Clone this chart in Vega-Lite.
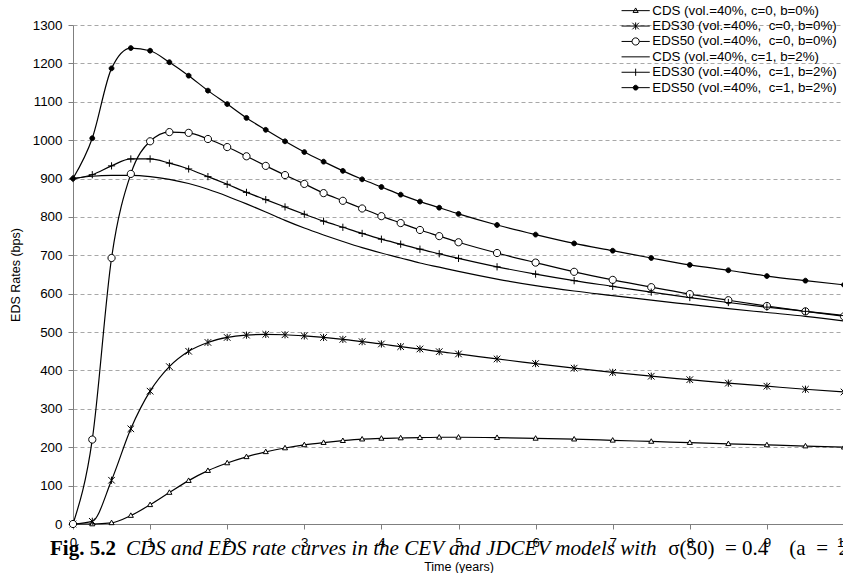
{
  "$schema": "https://vega.github.io/schema/vega-lite/v6.json",
  "width": 771,
  "height": 499,
  "autosize": "none",
  "padding": {"left": 73, "top": 25, "right": 0, "bottom": 49},
  "background": "white",
  "config": {
    "font": "Liberation Sans",
    "view": {"stroke": null},
    "legend": {
      "title": null, "orient": "none", "legendX": 556, "legendY": -21,
      "padding": 0, "symbolSize": 36, "symbolOpacity": 1, "symbolStrokeWidth": 1,
      "labelOffset": 10, "rowPadding": 1.4,
      "labelFont": "Liberation Sans", "labelFontSize": 13.3, "labelColor": "black", "labelLimit": 400
    }
  },
  "resolve": {"axis": {"x": "independent", "y": "independent"}},
  "datasets": {
    "names": [
      {"key": "cds0", "series": "CDS (vol.=40%, c=0, b=0%)"},
      {"key": "eds30_0", "series": "EDS30 (vol.=40%,\u00a0 c=0, b=0%)"},
      {"key": "eds50_0", "series": "EDS50 (vol.=40%,\u00a0 c=0, b=0%)"},
      {"key": "cds1", "series": "CDS (vol.=40%, c=1, b=2%)"},
      {"key": "eds30_1", "series": "EDS30 (vol.=40%,\u00a0 c=1, b=2%)"},
      {"key": "eds50_1", "series": "EDS50 (vol.=40%,\u00a0 c=1, b=2%)"}
    ],
    "rates": [
      {"t": 0, "cds0": 0, "eds30_0": 0, "eds50_0": 0, "cds1": 900, "eds30_1": 900, "eds50_1": 900},
      {"t": 0.25, "cds0": 0, "eds30_0": 7, "eds50_0": 220, "cds1": 906, "eds30_1": 910, "eds50_1": 1005},
      {"t": 0.5, "cds0": 3, "eds30_0": 114, "eds50_0": 693, "cds1": 908, "eds30_1": 933, "eds50_1": 1187},
      {"t": 0.75, "cds0": 22, "eds30_0": 248, "eds50_0": 912, "cds1": 908, "eds30_1": 951, "eds50_1": 1240},
      {"t": 1.0, "cds0": 50, "eds30_0": 346, "eds50_0": 997, "cds1": 905, "eds30_1": 951, "eds50_1": 1233},
      {"t": 1.25, "cds0": 82, "eds30_0": 410, "eds50_0": 1021, "cds1": 898, "eds30_1": 940, "eds50_1": 1203},
      {"t": 1.5, "cds0": 113, "eds30_0": 450, "eds50_0": 1019, "cds1": 887, "eds30_1": 925, "eds50_1": 1168},
      {"t": 1.75, "cds0": 139, "eds30_0": 473, "eds50_0": 1003, "cds1": 872, "eds30_1": 905, "eds50_1": 1129},
      {"t": 2.0, "cds0": 159, "eds30_0": 486, "eds50_0": 982, "cds1": 854, "eds30_1": 885, "eds50_1": 1094},
      {"t": 2.25, "cds0": 175, "eds30_0": 492, "eds50_0": 958, "cds1": 834, "eds30_1": 864, "eds50_1": 1058},
      {"t": 2.5, "cds0": 188, "eds30_0": 494, "eds50_0": 933, "cds1": 813, "eds30_1": 845, "eds50_1": 1027},
      {"t": 2.75, "cds0": 198, "eds30_0": 493, "eds50_0": 909, "cds1": 791, "eds30_1": 826, "eds50_1": 997},
      {"t": 3.0, "cds0": 206, "eds30_0": 490, "eds50_0": 886, "cds1": 771, "eds30_1": 807, "eds50_1": 969},
      {"t": 3.25, "cds0": 212, "eds30_0": 486, "eds50_0": 862, "cds1": 753, "eds30_1": 789, "eds50_1": 944},
      {"t": 3.5, "cds0": 217, "eds30_0": 481, "eds50_0": 842, "cds1": 736, "eds30_1": 773, "eds50_1": 920},
      {"t": 3.75, "cds0": 221, "eds30_0": 475, "eds50_0": 822, "cds1": 720, "eds30_1": 757, "eds50_1": 898},
      {"t": 4.0, "cds0": 223, "eds30_0": 469, "eds50_0": 802, "cds1": 706, "eds30_1": 742, "eds50_1": 878},
      {"t": 4.25, "cds0": 224, "eds30_0": 462, "eds50_0": 784, "cds1": 693, "eds30_1": 729, "eds50_1": 858},
      {"t": 4.5, "cds0": 225, "eds30_0": 456, "eds50_0": 766, "cds1": 680, "eds30_1": 716, "eds50_1": 840},
      {"t": 4.75, "cds0": 226, "eds30_0": 449, "eds50_0": 750, "cds1": 669, "eds30_1": 704, "eds50_1": 824},
      {"t": 5.0, "cds0": 226, "eds30_0": 443, "eds50_0": 734, "cds1": 658, "eds30_1": 692, "eds50_1": 808},
      {"t": 5.5, "cds0": 225, "eds30_0": 430, "eds50_0": 706, "cds1": 638, "eds30_1": 670, "eds50_1": 779},
      {"t": 6.0, "cds0": 223, "eds30_0": 418, "eds50_0": 681, "cds1": 621, "eds30_1": 651, "eds50_1": 754},
      {"t": 6.5, "cds0": 221, "eds30_0": 406, "eds50_0": 657, "cds1": 607, "eds30_1": 634, "eds50_1": 731},
      {"t": 7.0, "cds0": 218, "eds30_0": 395, "eds50_0": 636, "cds1": 595, "eds30_1": 619, "eds50_1": 712},
      {"t": 7.5, "cds0": 215, "eds30_0": 385, "eds50_0": 617, "cds1": 583, "eds30_1": 604, "eds50_1": 693},
      {"t": 8.0, "cds0": 212, "eds30_0": 376, "eds50_0": 599, "cds1": 572, "eds30_1": 590, "eds50_1": 675},
      {"t": 8.5, "cds0": 209, "eds30_0": 367, "eds50_0": 583, "cds1": 561, "eds30_1": 577, "eds50_1": 661},
      {"t": 9.0, "cds0": 206, "eds30_0": 359, "eds50_0": 568, "cds1": 551, "eds30_1": 565, "eds50_1": 646},
      {"t": 9.5, "cds0": 203, "eds30_0": 351, "eds50_0": 554, "cds1": 541, "eds30_1": 554, "eds50_1": 634},
      {"t": 10.0, "cds0": 200, "eds30_0": 344, "eds50_0": 541, "cds1": 529, "eds30_1": 543, "eds50_1": 623}
    ],
    "captions": [
      {"part": "fig", "caption": "Fig. 5.2"},
      {"part": "body", "caption": "CDS and EDS rate curves in the CEV and JDCEV models with"},
      {"part": "math", "caption": "σ(50)\u00a0 = 0.4\u00a0 \u00a0 (a\u00a0 =\u00a0 2"}
    ]
  },
  "layer": [
    {
      "data": {"name": "rates"},
      "transform": [
        {"fold": ["cds0", "eds30_0", "eds50_0", "cds1", "eds30_1", "eds50_1"], "as": ["key", "v"]},
        {"lookup": "key", "from": {"data": {"name": "names"}, "key": "key", "fields": ["series"]}}
      ],
      "encoding": {
        "x": {
          "field": "t", "type": "quantitative",
          "scale": {"domain": [0, 10], "nice": false, "zero": false},
          "axis": {
            "title": "Time (years)", "titleFont": "Liberation Sans", "titleFontSize": 12.5, "titleFontWeight": "normal", "titleColor": "black", "titlePadding": 12,
            "values": [0, 1, 2, 3, 4, 5, 6, 7, 8, 9, 10], "format": "d",
            "labelFont": "Liberation Sans", "labelFontSize": 13.4, "labelColor": "black", "labelPadding": 6, "labelFlush": false, "labelOverlap": false,
            "tickSize": 5, "tickColor": "#7f7f7f", "domainColor": "#7f7f7f", "grid": false
          }
        },
        "y": {
          "field": "v", "type": "quantitative",
          "scale": {"domain": [0, 1300], "nice": false, "zero": false},
          "axis": {
            "title": "EDS Rates (bps)", "titleFont": "Liberation Sans", "titleFontSize": 12.5, "titleFontWeight": "normal", "titleColor": "black", "titlePadding": 10,
            "values": [0, 100, 200, 300, 400, 500, 600, 700, 800, 900, 1000, 1100, 1200, 1300], "format": "d",
            "labelFont": "Liberation Sans", "labelFontSize": 13.4, "labelColor": "black", "labelPadding": 6, "labelOverlap": false,
            "tickSize": 5, "tickColor": "#7f7f7f", "domainColor": "#7f7f7f",
            "grid": true, "gridColor": "#a8a8a8", "gridDash": [4, 3], "gridWidth": 1
          }
        }
      },
      "layer": [
        {
          "mark": {"type": "line", "interpolate": "monotone", "color": "black", "strokeWidth": 1.2},
          "encoding": {"detail": {"field": "series", "type": "nominal"}}
        },
        {
          "transform": [{"filter": "datum.key !== 'cds1'"}],
          "mark": {"type": "point", "filled": true, "stroke": "black", "strokeWidth": 1, "opacity": 1, "size": 36},
          "encoding": {
            "shape": {
              "condition": [
                {"test": "datum.key === 'cds0'", "value": "M0,-0.9L0.85,0.6L-0.85,0.6Z"},
                {"test": "datum.key === 'eds30_0'", "value": "M-1.1,-1.1L1.1,1.1M-1.1,1.1L1.1,-1.1M0,-1.2L0,1.2"},
                {"test": "datum.key === 'eds50_0'", "value": "M-1.2,0A1.2,1.2,0,1,0,1.2,0A1.2,1.2,0,1,0,-1.2,0Z"},
                {"test": "datum.key === 'eds30_1'", "value": "M-1.2,0L1.2,0M0,-1.2L0,1.2"}
              ],
              "value": "M-0.8,0A0.8,0.8,0,1,0,0.8,0A0.8,0.8,0,1,0,-0.8,0Z"
            },
            "fill": {"condition": {"test": "datum.key === 'eds50_1'", "value": "black"}, "value": "white"}
          }
        }
      ]
    },
    {
      "data": {"name": "names"},
      "mark": {"type": "point", "filled": true, "strokeWidth": 1, "opacity": 0, "size": 36},
      "encoding": {
        "shape": {
          "field": "series", "type": "nominal",
          "scale": {
            "domain": ["CDS (vol.=40%, c=0, b=0%)", "EDS30 (vol.=40%,\u00a0 c=0, b=0%)", "EDS50 (vol.=40%,\u00a0 c=0, b=0%)", "CDS (vol.=40%, c=1, b=2%)", "EDS30 (vol.=40%,\u00a0 c=1, b=2%)", "EDS50 (vol.=40%,\u00a0 c=1, b=2%)"],
            "range": [
              "M-4.7,0L4.7,0M0,-0.9L0.85,0.6L-0.85,0.6Z",
              "M-4.7,0L4.7,0M-1.1,-1.1L1.1,1.1M-1.1,1.1L1.1,-1.1M0,-1.2L0,1.2",
              "M-4.7,0L-1.2,0M1.2,0L4.7,0M-1.2,0A1.2,1.2,0,1,0,1.2,0A1.2,1.2,0,1,0,-1.2,0Z",
              "M-4.7,0L4.7,0",
              "M-4.7,0L4.7,0M0,-1.2L0,1.2",
              "M-4.7,0L4.7,0M-0.8,0A0.8,0.8,0,1,0,0.8,0A0.8,0.8,0,1,0,-0.8,0Z"
            ]
          }
        },
        "fill": {
          "field": "series", "type": "nominal",
          "scale": {
            "domain": ["CDS (vol.=40%, c=0, b=0%)", "EDS30 (vol.=40%,\u00a0 c=0, b=0%)", "EDS50 (vol.=40%,\u00a0 c=0, b=0%)", "CDS (vol.=40%, c=1, b=2%)", "EDS30 (vol.=40%,\u00a0 c=1, b=2%)", "EDS50 (vol.=40%,\u00a0 c=1, b=2%)"],
            "range": ["white", "white", "white", "white", "white", "black"]
          }
        },
        "stroke": {
          "field": "series", "type": "nominal",
          "scale": {
            "domain": ["CDS (vol.=40%, c=0, b=0%)", "EDS30 (vol.=40%,\u00a0 c=0, b=0%)", "EDS50 (vol.=40%,\u00a0 c=0, b=0%)", "CDS (vol.=40%, c=1, b=2%)", "EDS30 (vol.=40%,\u00a0 c=1, b=2%)", "EDS50 (vol.=40%,\u00a0 c=1, b=2%)"],
            "range": ["black", "black", "black", "black", "black", "black"]
          }
        }
      }
    },
    {
      "data": {"name": "captions"},
      "transform": [{"filter": "datum.part === 'fig'"}],
      "mark": {"type": "text", "font": "Liberation Serif", "fontWeight": "bold", "fontSize": 21, "align": "left", "baseline": "alphabetic", "color": "black"},
      "encoding": {
        "x": {"datum": -0.298, "type": "quantitative", "scale": {"domain": [0, 10], "nice": false, "zero": false}, "axis": null},
        "y": {"datum": -80, "type": "quantitative", "scale": {"domain": [0, 1300], "nice": false, "zero": false}, "axis": null},
        "text": {"field": "caption"}
      }
    },
    {
      "data": {"name": "captions"},
      "transform": [{"filter": "datum.part === 'body'"}],
      "mark": {"type": "text", "font": "Liberation Serif", "fontStyle": "italic", "fontSize": 21.1, "align": "left", "baseline": "alphabetic", "color": "black"},
      "encoding": {
        "x": {"datum": 0.687, "type": "quantitative", "scale": {"domain": [0, 10], "nice": false, "zero": false}, "axis": null},
        "y": {"datum": -80, "type": "quantitative", "scale": {"domain": [0, 1300], "nice": false, "zero": false}, "axis": null},
        "text": {"field": "caption"}
      }
    },
    {
      "data": {"name": "captions"},
      "transform": [{"filter": "datum.part === 'math'"}],
      "mark": {"type": "text", "font": "Liberation Serif", "fontSize": 21, "align": "left", "baseline": "alphabetic", "color": "black"},
      "encoding": {
        "x": {"datum": 7.72, "type": "quantitative", "scale": {"domain": [0, 10], "nice": false, "zero": false}, "axis": null},
        "y": {"datum": -80, "type": "quantitative", "scale": {"domain": [0, 1300], "nice": false, "zero": false}, "axis": null},
        "text": {"field": "caption"}
      }
    }
  ]
}
